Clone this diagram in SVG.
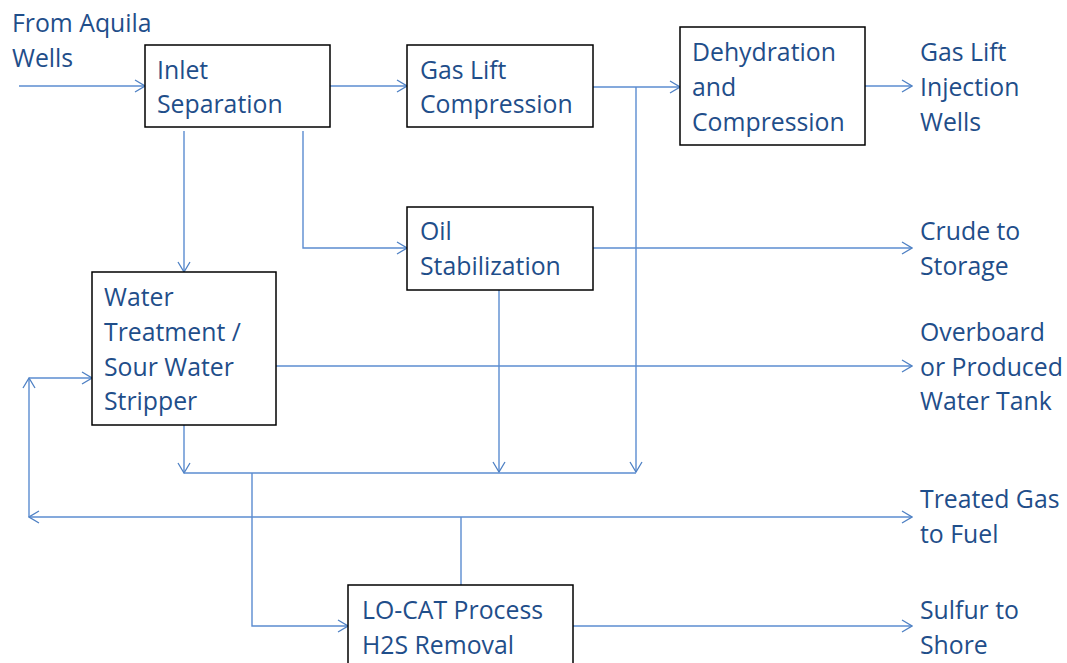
<svg xmlns="http://www.w3.org/2000/svg" width="1067" height="663" viewBox="0 0 1067 663">
<defs>
<marker id="arr" markerWidth="12" markerHeight="14" refX="11" refY="7" orient="auto" markerUnits="userSpaceOnUse">
<path d="M1,1 L11,7 L1,13" fill="none" stroke="#4f81c4" stroke-width="1.3"/>
</marker>
</defs>
<style>
text{font-family:"Open Sans",Lato,"Liberation Sans",sans-serif;font-size:24.8px;fill:#1f4e8a}
.box{fill:#fff;stroke:#000;stroke-width:1.5}
.c{fill:none;stroke:#5b8cd0;stroke-width:1.4}
</style>
<rect width="1067" height="663" fill="#fff"/>
<g id="connectors">
<path class="c" d="M19,86 H145" marker-end="url(#arr)"/>
<path class="c" d="M330,86 H407" marker-end="url(#arr)"/>
<path class="c" d="M593,87 H680" marker-end="url(#arr)"/>
<path class="c" d="M636,87 V472" marker-end="url(#arr)"/>
<path class="c" d="M865,86 H912" marker-end="url(#arr)"/>
<path class="c" d="M184,131 V272" marker-end="url(#arr)"/>
<path class="c" d="M303,131 V248 H407" marker-end="url(#arr)"/>
<path class="c" d="M593,248 H912" marker-end="url(#arr)"/>
<path class="c" d="M276,366 H912" marker-end="url(#arr)"/>
<path class="c" d="M499,290 V472" marker-end="url(#arr)"/>
<path class="c" d="M184,425 V473" marker-end="url(#arr)"/>
<path class="c" d="M184,473 H636"/>
<path class="c" d="M252,473 V626 H348" marker-end="url(#arr)"/>
<path class="c" d="M461,585 V517"/>
<path class="c" d="M461,517 H29" marker-end="url(#arr)"/>
<path class="c" d="M461,517 H912" marker-end="url(#arr)"/>
<path class="c" d="M29,517 V378" marker-end="url(#arr)"/>
<path class="c" d="M29,378 H92" marker-end="url(#arr)"/>
<path class="c" d="M573,626 H912" marker-end="url(#arr)"/>
</g>
<g id="n-from"><text x="12" y="32">From Aquila</text><text x="12" y="67">Wells</text></g>
<g id="n-inlet"><rect class="box" x="145" y="45" width="185" height="82"/><text x="157" y="79">Inlet</text><text x="157" y="113">Separation</text></g>
<g id="n-gaslift"><rect class="box" x="407" y="45" width="186" height="82"/><text x="420" y="79">Gas Lift</text><text x="420" y="113">Compression</text></g>
<g id="n-dehyd"><rect class="box" x="680" y="27" width="185" height="118"/><text x="692" y="61">Dehydration</text><text x="692" y="96">and</text><text x="692" y="131">Compression</text></g>
<g id="n-inj"><text x="920" y="61">Gas Lift</text><text x="920" y="96">Injection</text><text x="920" y="131">Wells</text></g>
<g id="n-oil"><rect class="box" x="407" y="207" width="186" height="83"/><text x="420" y="240">Oil</text><text x="420" y="275">Stabilization</text></g>
<g id="n-crude"><text x="920" y="240">Crude to</text><text x="920" y="275">Storage</text></g>
<g id="n-water"><rect class="box" x="92" y="272" width="184" height="153"/><text x="104" y="306">Water</text><text x="104" y="341">Treatment /</text><text x="104" y="376">Sour Water</text><text x="104" y="410">Stripper</text></g>
<g id="n-overboard"><text x="920" y="341">Overboard</text><text x="920" y="376">or Produced</text><text x="920" y="410">Water Tank</text></g>
<g id="n-fuel"><text x="920" y="508">Treated Gas</text><text x="920" y="543">to Fuel</text></g>
<g id="n-locat"><rect class="box" x="348" y="585" width="225" height="90"/><text x="362" y="619">LO-CAT Process</text><text x="362" y="654">H2S Removal</text></g>
<g id="n-sulfur"><text x="920" y="619">Sulfur to</text><text x="920" y="654">Shore</text></g>
</svg>
